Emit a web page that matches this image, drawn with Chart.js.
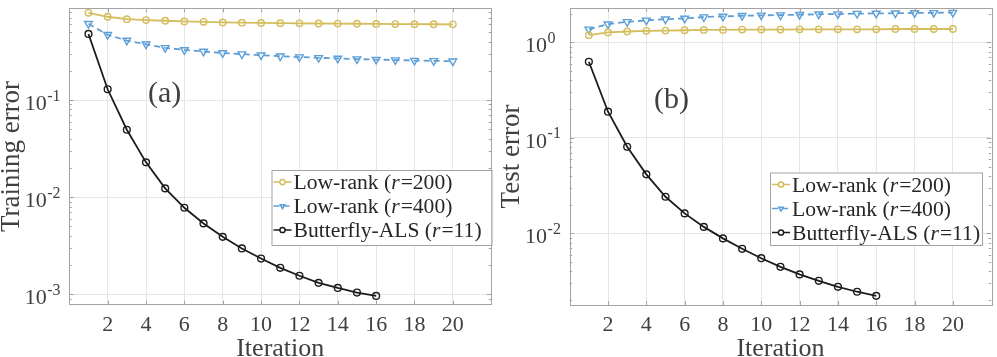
<!DOCTYPE html>
<html>
<head>
<meta charset="utf-8">
<script src="https://cdn.jsdelivr.net/npm/chart.js@4.4.1/dist/chart.umd.min.js"></script>
<style>
    html, body { margin: 0; padding: 0; background: #fff; }
    #wrap { position: relative; width: 997px; height: 357px; overflow: hidden; }
    #wrap canvas { position: absolute; top: 0; }
</style>
</head>
<body>
<div id="wrap">
    <canvas id="trainChart" width="497" height="357" style="left:0"></canvas>
    <canvas id="testChart" width="500" height="357" style="left:497px"></canvas>
</div>
<script>
// Chart data
const iterations = [1, 2, 3, 4, 5, 6, 7, 8, 9, 10, 11, 12, 13, 14, 15, 16, 17, 18, 19, 20];
const butterflyIterations = [1, 2, 3, 4, 5, 6, 7, 8, 9, 10, 11, 12, 13, 14, 15, 16];

const trainLowRank200 = [0.79, 0.72, 0.68, 0.665, 0.655, 0.645, 0.638, 0.63, 0.626, 0.622, 0.619, 0.616, 0.614, 0.612, 0.61, 0.608, 0.606, 0.604, 0.603, 0.602];
const trainLowRank400 = [0.61, 0.47, 0.41, 0.375, 0.345, 0.328, 0.316, 0.305, 0.297, 0.289, 0.283, 0.277, 0.272, 0.268, 0.264, 0.261, 0.258, 0.255, 0.253, 0.251];
const trainButterfly = [0.479, 0.129, 0.0494, 0.0228, 0.0123, 0.00777, 0.00536, 0.0039, 0.00296, 0.00233, 0.00187, 0.00155, 0.00131, 0.00116, 0.00104, 0.00096];

const testLowRank200 = [1.19, 1.27, 1.30, 1.32, 1.33, 1.34, 1.35, 1.35, 1.36, 1.36, 1.36, 1.37, 1.37, 1.37, 1.37, 1.37, 1.38, 1.38, 1.38, 1.38];
const testLowRank400 = [1.37, 1.55, 1.64, 1.70, 1.75, 1.78, 1.84, 1.87, 1.90, 1.92, 1.93, 1.95, 1.97, 1.98, 2.00, 2.01, 2.02, 2.03, 2.04, 2.05];
const testButterfly = [0.626, 0.188, 0.0807, 0.0415, 0.0242, 0.0162, 0.0117, 0.00887, 0.0069, 0.0055, 0.00447, 0.00372, 0.00319, 0.00276, 0.00245, 0.00222];

const seriesNames = ['Low-rank (r=200)', 'Low-rank (r=400)', 'Butterfly-ALS (r=11)'];
const iterationTicks = [2, 4, 6, 8, 10, 12, 14, 16, 18, 20];
const trainTickValues = [0.001, 0.01, 0.1];
const trainTickExponents = ['-3', '-2', '-1'];
const testTickValues = [0.01, 0.1, 1];
const testTickExponents = ['-2', '-1', '0'];

const SERIF = "'Liberation Serif', 'DejaVu Serif', serif";
const TEXT_COLOR = '#404040';
const AXIS_COLOR = '#a3a3a3';
const GRID_COLOR = '#e6e6e6';
const YELLOW = '#d5bd5c';
const BLUE = '#5d9fd7';
const BLACK = '#1c1c1c';

function toPoints(xs, ys) {
    return ys.map((y, i) => ({ x: xs[i], y: y }));
}

// Draws the MATLAB-like box, inner tick marks, 10^n labels, legend and panel tag
const matlabAxes = {
    id: 'matlabAxes',
    afterDraw(chart, args, opts) {
        const ctx = chart.ctx;
        const area = chart.chartArea;
        const xs = chart.scales.x;
        const ys = chart.scales.y;
        ctx.save();

        // box
        ctx.strokeStyle = AXIS_COLOR;
        ctx.lineWidth = 1;
        ctx.strokeRect(Math.round(area.left) + 0.5, Math.round(area.top) + 0.5,
            Math.round(area.right - area.left), Math.round(area.bottom - area.top));

        // x tick marks (bottom and top, inside)
        ctx.beginPath();
        iterationTicks.forEach(v => {
            const px = Math.round(xs.getPixelForValue(v)) + 0.5;
            ctx.moveTo(px, area.bottom); ctx.lineTo(px, area.bottom - 4);
            ctx.moveTo(px, area.top); ctx.lineTo(px, area.top + 4);
        });
        // y tick marks, major and minor (left and right, inside)
        const lo = Math.floor(Math.log10(ys.min));
        const hi = Math.ceil(Math.log10(ys.max));
        for (let e = lo; e <= hi; e++) {
            for (let m = 1; m <= 9; m++) {
                const v = m * Math.pow(10, e);
                if (v < ys.min || v > ys.max) continue;
                const py = Math.round(ys.getPixelForValue(v)) + 0.5;
                const len = m === 1 ? 4.5 : 2.5;
                ctx.moveTo(area.left, py); ctx.lineTo(area.left + len, py);
                ctx.moveTo(area.right, py); ctx.lineTo(area.right - len, py);
            }
        }
        ctx.stroke();

        // y tick labels as 10 with a superscript exponent
        ctx.fillStyle = TEXT_COLOR;
        ctx.textBaseline = 'alphabetic';
        opts.tickValues.forEach((v, i) => {
            const py = ys.getPixelForValue(v);
            const bx = area.left - 22.6;
            ctx.font = '22px ' + SERIF;
            ctx.textAlign = 'right';
            ctx.fillText('10', bx, py + 10);
            ctx.font = '16px ' + SERIF;
            ctx.textAlign = 'left';
            ctx.fillText(opts.tickExponents[i], bx + 0.5, py + 0.5);
        });

        // panel tag
        ctx.font = '30px ' + SERIF;
        ctx.textAlign = 'left';
        ctx.fillText(opts.tag, opts.tagX, opts.tagY);

        // legend
        const lg = opts.legend;
        ctx.fillStyle = '#ffffff';
        ctx.fillRect(lg.x, lg.y, lg.w, lg.h);
        ctx.strokeStyle = AXIS_COLOR;
        ctx.strokeRect(lg.x + 0.5, lg.y + 0.5, lg.w, lg.h);
        chart.data.datasets.forEach((ds, i) => {
            const cy = lg.y + 12 + 24 * i;
            const x0 = lg.x + 2;
            const x1 = lg.x + 20;
            ctx.strokeStyle = ds.borderColor;
            ctx.lineWidth = 1.5;
            ctx.setLineDash(ds.borderDash || []);
            ctx.beginPath();
            ctx.moveTo(x0, cy); ctx.lineTo(x1, cy);
            ctx.stroke();
            ctx.setLineDash([]);
            ctx.fillStyle = '#ffffff';
            Chart.helpers.drawPoint(ctx, {
                pointStyle: ds.pointStyle,
                rotation: ds.pointRotation || 0,
                radius: 2.6,
                borderWidth: 1.2
            }, (x0 + x1) / 2, cy);

            // label with italic r
            const m = ds.label.match(/^(.*\()r(=.*)$/);
            let tx = lg.x + 22;
            const ty = cy + 7;
            ctx.fillStyle = '#262626';
            ctx.textAlign = 'left';
            const parts = m ? [[m[1], ''], ['r', 'italic '], [m[2], '']] : [[ds.label, '']];
            parts.forEach(p => {
                ctx.font = p[1] + '21.6px ' + SERIF;
                ctx.fillText(p[0], tx, ty);
                tx += ctx.measureText(p[0]).width + (p[1] ? 1 : 0);
            });
        });

        ctx.restore();
    }
};

function makeErrorChart(canvasId, cfg) {
    const ctx = document.getElementById(canvasId).getContext('2d');
    const lineBase = {
        fill: false,
        tension: 0,
        borderWidth: 1.8,
        pointBorderWidth: 1.4,
        pointBackgroundColor: 'rgba(255,255,255,0)'
    };
    const datasets = [
        Object.assign({}, lineBase, {
            label: seriesNames[0],
            data: toPoints(iterations, cfg.lowRank200),
            borderColor: YELLOW,
            pointBorderColor: YELLOW,
            pointStyle: 'circle',
            pointRadius: 3.2
        }),
        Object.assign({}, lineBase, {
            label: seriesNames[1],
            data: toPoints(iterations, cfg.lowRank400),
            borderColor: BLUE,
            pointBorderColor: BLUE,
            borderDash: [6, 4],
            pointStyle: 'triangle',
            pointRotation: 180,
            pointRadius: 4.4
        }),
        Object.assign({}, lineBase, {
            label: seriesNames[2],
            data: toPoints(butterflyIterations, cfg.butterfly),
            borderColor: BLACK,
            pointBorderColor: BLACK,
            pointStyle: 'circle',
            pointRadius: 3.4
        })
    ];

    return new Chart(ctx, {
        type: 'line',
        data: { datasets: datasets },
        options: {
            responsive: false,
            animation: false,
            devicePixelRatio: 1,
            layout: { padding: { top: cfg.padTop, right: cfg.padRight, left: 0, bottom: 0 } },
            plugins: {
                legend: { display: false },
                tooltip: { enabled: false },
                matlabAxes: {
                    tickValues: cfg.tickValues,
                    tickExponents: cfg.tickExponents,
                    tag: cfg.tag,
                    tagX: cfg.tagX,
                    tagY: cfg.tagY,
                    legend: cfg.legend
                }
            },
            scales: {
                x: {
                    type: 'linear',
                    min: 0,
                    max: 22,
                    afterBuildTicks: s => { s.ticks = iterationTicks.map(v => ({ value: v })); },
                    afterFit: s => { s.height = cfg.xAxisHeight; },
                    border: { display: false },
                    grid: { color: GRID_COLOR, drawTicks: false },
                    ticks: {
                        color: TEXT_COLOR,
                        font: { family: SERIF, size: 22 },
                        padding: 7,
                        maxRotation: 0,
                        autoSkip: false
                    },
                    title: {
                        display: true,
                        text: 'Iteration',
                        color: TEXT_COLOR,
                        font: { family: SERIF, size: 26, lineHeight: 1 },
                        padding: { top: 0, bottom: -5.4 }
                    }
                },
                y: {
                    type: 'logarithmic',
                    min: cfg.yMin,
                    max: cfg.yMax,
                    afterBuildTicks: s => { s.ticks = cfg.tickValues.map(v => ({ value: v })); },
                    afterFit: s => { s.width = cfg.yAxisWidth; },
                    border: { display: false },
                    grid: { color: GRID_COLOR, drawTicks: false },
                    ticks: { display: false },
                    title: {
                        display: true,
                        text: cfg.yTitle,
                        color: TEXT_COLOR,
                        font: { family: SERIF, size: 27, lineHeight: 1 },
                        padding: { top: cfg.yTitleShift, bottom: 0 }
                    }
                }
            }
        },
        plugins: [matlabAxes]
    });
}

makeErrorChart('trainChart', {
    lowRank200: trainLowRank200,
    lowRank400: trainLowRank400,
    butterfly: trainButterfly,
    tickValues: trainTickValues,
    tickExponents: trainTickExponents,
    yMin: 0.00078,
    yMax: 0.88,
    yTitle: 'Training error',
    yTitleShift: -1.5,
    yAxisWidth: 69.3,
    xAxisHeight: 52.3,
    padTop: 8.3,
    padRight: 3.5,
    tag: '(a)',
    tagX: 148,
    tagY: 101.5,
    legend: { x: 271.5, y: 170, w: 220, h: 75 }
});

makeErrorChart('testChart', {
    lowRank200: testLowRank200,
    lowRank400: testLowRank400,
    butterfly: testButterfly,
    tickValues: testTickValues,
    tickExponents: testTickExponents,
    yMin: 0.00178,
    yMax: 2.29,
    yTitle: 'Test error',
    yTitleShift: 1,
    yAxisWidth: 72.7,
    xAxisHeight: 52,
    padTop: 8,
    padRight: 5,
    tag: '(b)',
    tagX: 157,
    tagY: 107.5,
    legend: { x: 273, y: 172.5, w: 212, h: 72.5 }
});
</script>
</body>
</html>
